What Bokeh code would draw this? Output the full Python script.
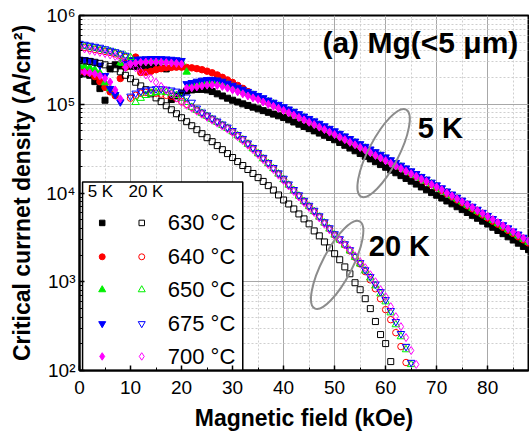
from bokeh.plotting import figure
from bokeh.models import CustomJSTickFormatter, Range1d, SingleIntervalTicker, LogTicker
from bokeh.core.properties import value
from bokeh.embed import file_html
from bokeh.resources import INLINE

# Magnetic field grid (kOe), one measurement per kOe
fields = [0, 1, 2, 3, 4, 5, 6, 7, 8, 9, 10, 11, 12, 13, 14, 15, 16, 17, 18, 19,
          20, 21, 22, 23, 24, 25, 26, 27, 28, 29, 30, 31, 32, 33, 34, 35, 36, 37, 38, 39,
          40, 41, 42, 43, 44, 45, 46, 47, 48, 49, 50, 51, 52, 53, 54, 55, 56, 57, 58, 59,
          60, 61, 62, 63, 64, 65, 66, 67, 68, 69, 70, 71, 72, 73, 74, 75, 76, 77, 78, 79,
          80, 81, 82, 83, 84, 85, 86, 87, 88]

# Jc in kA/cm^2 — 5 K (filled symbols)
jc5_630 = [223, 220, 212, 180, 150, 111, 250, 278, 272, 270, 268, 266, 264, 262, 260, 258, 255, 250, 113, 124,
           134, 141, 145, 147, 147, 145, 139, 131, 124, 117,
           111, 106, 101, 97.0, 92.7, 88.7, 84.7, 81.1, 77.4, 74.1, 70.8, 66.8, 63.1, 59.6, 56.2, 53.1, 50.1, 47.3,
           44.7, 42.2, 39.8, 37.1, 34.5, 32.1, 29.9, 27.9, 25.9, 24.2, 22.5, 20.9, 19.5, 18.1, 16.9, 15.7, 14.6,
           13.6, 12.6, 11.7, 10.9, 10.1, 9.44, 8.77, 8.13, 7.55, 7.00, 6.50, 6.03, 5.60, 5.19, 4.82, 4.47, 4.11,
           3.78, 3.48, 3.21, 2.95, 2.72, 2.50, 2.30]
jc5_640 = [235, 232, 225, 205, 180, 155, 138, 125, 195, 260, 310, 340, 228, 230, 235, 245, 252, 258, 260, 262,
           262, 260, 257, 252, 245, 236, 226, 214, 201, 188,
           176, 163, 151, 139, 128, 119, 111, 104, 98.7, 93.3, 87.9, 82.8, 78.0, 73.3, 68.9, 64.8, 60.8, 57.1,
           53.5, 50.1, 47.0, 44.0, 41.2, 38.4, 36.0, 33.7, 31.4, 29.3, 27.4, 25.6, 23.9, 22.2, 20.7, 19.3, 18.0,
           16.6, 15.5, 14.4, 13.4, 12.4, 11.6, 10.7, 9.87, 9.12, 8.41, 7.78, 7.18, 6.64, 6.13, 5.67, 5.23, 4.82,
           4.45, 4.11, 3.79, 3.50, 3.22, 2.97, 2.74]
jc5_650 = [270, 266, 258, 245, 225, 175, 150, 135, 290, 300, 305, 305, 306, 307, 308, 308, 307, 305, 303, 300,
           298, 231, 165, 172, 177, 180, 181, 179, 173, 165,
           157, 149, 141, 133, 127, 120, 113, 107, 101, 95.3, 89.8, 84.6, 79.7, 74.9, 70.4, 66.1, 62.1, 58.3,
           54.6, 51.2, 48.0, 44.9, 42.0, 39.3, 36.8, 34.4, 32.1, 30.0, 27.9, 26.1, 24.4, 22.7, 21.1, 19.7, 18.3,
           17.0, 15.8, 14.7, 13.7, 12.7, 11.8, 10.9, 10.1, 9.31, 8.59, 7.95, 7.33, 6.78, 6.26, 5.79, 5.34, 4.92,
           4.54, 4.20, 3.87, 3.57, 3.29, 3.03, 2.80]
jc5_675 = [320, 317, 310, 298, 275, 210, 150, 128, 106, 300, 315, 320, 322, 324, 326, 326, 325, 323, 320, 316,
           310, 170, 175, 181, 186, 189, 190, 187, 181, 172,
           163, 155, 147, 139, 132, 125, 118, 111, 105, 99.3, 93.5, 88.1, 83.0, 78.0, 73.3, 68.9, 64.7, 60.7,
           56.9, 53.3, 50.0, 46.8, 43.8, 40.9, 38.3, 35.8, 33.4, 31.2, 29.1, 27.2, 25.4, 23.6, 22.0, 20.5, 19.1,
           17.7, 16.5, 15.3, 14.3, 13.2, 12.3, 11.4, 10.5, 9.70, 8.95, 8.28, 7.64, 7.06, 6.52, 6.03, 5.56, 5.13,
           4.73, 4.37, 4.03, 3.72, 3.43, 3.16, 2.92]
jc5_700 = [232, 230, 226, 220, 210, 195, 178, 145, 115, 260, 285, 292, 297, 299, 299, 299, 298, 295, 292, 289,
           284, 152, 153, 157, 161, 164, 165, 163, 159, 152,
           145, 138, 131, 124, 118, 113, 106, 100, 95.0, 90.0, 85.1, 80.2, 75.5, 71.0, 66.7, 62.7, 58.9, 55.2,
           51.8, 48.5, 45.5, 42.6, 39.9, 37.2, 34.9, 32.6, 30.4, 28.4, 26.5, 24.8, 23.1, 21.6, 20.2, 18.9, 17.6,
           16.5, 15.4, 14.4, 13.5, 12.5, 11.7, 10.9, 10.0, 9.30, 8.61, 7.99, 7.39, 6.85, 6.35, 5.89, 5.45, 5.03,
           4.64, 4.28, 3.95, 3.65, 3.36, 3.10, 2.86]

# Jc in kA/cm^2 — 20 K (open symbols)
jc20_630 = [312, 308, 304, 297, 289, 278, 267, 251, 232, 212, 194, 177, 161, 146, 131, 118, 107, 96.2, 86.7, 78.2,
            70.5, 63.6, 57.3, 51.7, 46.6, 42.0, 37.9, 34.2, 30.8, 27.8, 25.1, 22.6, 20.4, 18.4, 16.6, 14.9, 13.5,
            12.1, 10.8, 9.50, 8.34, 7.52, 6.61, 5.81, 5.11, 4.49, 3.74, 3.29, 2.81, 2.41, 2.07, 1.77, 1.47, 1.23,
            0.975, 0.813, 0.644, 0.498, 0.356, 0.254, 0.201, 0.126]
jc20_640 = [448, 437, 426, 415, 404, 394, 384, 369, 355, 337, 117, 126, 133, 136, 136, 133, 130, 126, 123, 117,
            108, 100, 92.5, 85.6, 79.2, 73.3, 67.8, 62.8, 58.1, 53.7, 49.1, 44.3, 39.9, 35.5, 31.6, 27.8, 24.4,
            21.5, 18.9, 16.4, 14.2, 12.3, 10.7, 9.25, 8.03, 7.05, 6.19, 5.37, 4.60, 3.94, 3.37, 2.96, 2.60, 2.23,
            1.89, 1.59, 1.30, 1.05, 0.834, 0.644, 0.485, 0.374, 0.267, 0.186, 0.123]
jc20_650 = [460, 448, 437, 426, 415, 404, 394, 379, 365, 351, 337, 105, 117, 126, 133, 136, 138, 136, 133, 126,
            117, 105, 92.5, 85.6, 79.2, 73.3, 67.8, 62.8, 58.1, 53.7, 49.1, 44.3, 39.9, 35.5, 31.6, 27.8, 24.4,
            21.5, 18.9, 16.4, 14.2, 12.3, 10.7, 9.25, 8.03, 7.05, 6.19, 5.37, 4.60, 3.94, 3.37, 2.96, 2.60, 2.23,
            1.89, 1.59, 1.33, 1.11, 0.902, 0.733, 0.596, 0.448, 0.329, 0.241, 0.172, 0.117]
jc20_675 = [484, 472, 460, 448, 437, 420, 404, 389, 374, 355, 123, 133, 140, 144, 147, 149, 149, 147, 144, 140,
            133, 120, 105, 90.2, 81.3, 75.2, 69.6, 64.4, 59.6, 55.1, 50.4, 45.4, 41.0, 36.5, 32.4, 28.5, 25.1,
            22.0, 19.3, 16.8, 14.6, 12.6, 10.9, 9.50, 8.24, 7.24, 6.36, 5.51, 4.72, 4.04, 3.46, 3.04, 2.67, 2.29,
            1.93, 1.64, 1.36, 1.14, 0.937, 0.772, 0.628, 0.472, 0.355, 0.260, 0.186, 0.123]
jc20_700 = [431, 420, 404, 394, 384, 374, 360, 346, 324, 304, 281, 257, 235, 214, 196, 177, 159, 144, 130, 117,
            105, 97.4, 90.2, 83.4, 77.2, 71.4, 66.1, 61.2, 56.6, 52.4, 47.9, 43.1, 38.9, 34.6, 30.8, 27.1, 23.8,
            20.9, 18.4, 15.9, 13.8, 12.0, 10.4, 9.02, 7.82, 6.87, 6.04, 5.24, 4.48, 3.84, 3.29, 2.96, 2.60, 2.29,
            1.96, 1.68, 1.44, 1.20, 1.00, 0.813, 0.678, 0.524, 0.404, 0.312, 0.235, 0.168, 0.117]

temps = ["630 °C", "640 °C", "650 °C", "675 °C", "700 °C"]
series_5k = [jc5_630, jc5_640, jc5_650, jc5_675, jc5_700]
series_20k = [jc20_630, jc20_640, jc20_650, jc20_675, jc20_700]
colors = ["#000000", "#ff0000", "#00f000", "#0000ff", "#ff00ff"]
markers = ["square", "circle", "triangle", "inverted_triangle", "diamond"]
sizes = [6, 6.5, 7.5, 7.5, 8]

FONT = "Liberation Sans"

p = figure(width=529, height=438, x_range=Range1d(0, 88), y_range=Range1d(100, 1e6),
           y_axis_type="log", output_backend="svg", toolbar_location=None,
           min_border_left=79, min_border_right=1, min_border_top=15, min_border_bottom=68)
p.background_fill_color = "white"
p.border_fill_color = "white"
p.outline_line_color = "black"
p.outline_line_width = 2

p.xaxis.ticker = SingleIntervalTicker(interval=10, num_minor_ticks=2)
p.yaxis.ticker = LogTicker(num_minor_ticks=10)
p.yaxis.formatter = CustomJSTickFormatter(code="""
const sup = {'0':'\u2070','1':'\u00b9','2':'\u00b2','3':'\u00b3','4':'\u2074','5':'\u2075','6':'\u2076','7':'\u2077','8':'\u2078','9':'\u2079','-':'\u207b'};
const e = Math.round(Math.log10(tick));
return '10' + String(e).split('').map(c => sup[c]).join('');
""")

for ax in (p.xaxis, p.yaxis):
    ax.axis_line_width = 2
    ax.axis_line_color = "black"
    ax.major_tick_in = 5
    ax.major_tick_out = 0
    ax.minor_tick_in = 3
    ax.minor_tick_out = 0
    ax.major_tick_line_width = 1.5
    ax.minor_tick_line_width = 1
    ax.major_tick_line_color = "black"
    ax.minor_tick_line_color = "black"
    ax.major_label_text_font = FONT
    ax.major_label_text_font_size = "19px"
    ax.major_label_text_color = "black"
    ax.axis_label_text_font = FONT
    ax.axis_label_text_font_style = "bold"
    ax.axis_label_text_font_size = "23px"
    ax.axis_label_text_color = "black"

p.xaxis.axis_label = "Magnetic field (kOe)"
p.yaxis.axis_label = "Critical currnet density (A/cm\u00b2)"
p.xaxis.major_label_standoff = 10
p.yaxis.major_label_standoff = 4
p.xaxis.axis_label_standoff = 8
p.yaxis.axis_label_standoff = 8

for g in (p.xgrid, p.ygrid):
    g.grid_line_color = "#a8a8a8"
    g.grid_line_width = 1
    g.minor_grid_line_color = "#cfcfcf"
    g.minor_grid_line_dash = "2 2"
    g.minor_grid_line_width = 1

# 5 K filled
for ser, c, m, s in zip(series_5k, colors, markers, sizes):
    xs = fields[:len(ser)]
    ys = [v * 1000 for v in ser]
    p.scatter(xs, ys, marker=m, size=s, fill_color=c, line_color=c, line_width=1)

# 20 K open
for ser, c, m, s in zip(series_20k, colors, markers, sizes):
    xs = fields[:len(ser)]
    ys = [v * 1000 for v in ser]
    p.scatter(xs, ys, marker=m, size=s, fill_alpha=0, line_color=c, line_width=1)

# Legend box (drawn manually: two symbol columns)
p.quad(left=[0.6], right=[32], top=[13300], bottom=[100], fill_color="white",
       line_color="black", line_width=1.5)
p.text(x=[1.6, 9.6], y=[10500, 10500], text=["5 K", "20 K"], text_font=value(FONT),
       text_font_size="17px", text_baseline="middle", text_align="left", text_color="black")
row_y = [4600, 1910, 813, 337, 144]
for i in range(5):
    p.scatter([4.45], [row_y[i]], marker=markers[i], size=sizes[i] - 0.5, fill_color=colors[i],
              line_color=colors[i])
    p.scatter([12.2], [row_y[i]], marker=markers[i], size=sizes[i] - 0.5, fill_alpha=0,
              line_color=colors[i])
p.text(x=[17.3] * 5, y=row_y, text=temps, text_font=value(FONT), text_font_size="22px",
       text_baseline="middle", text_align="left", text_color="black")

# Ellipses grouping the curves
p.ellipse(x=[59.6, 50.5], y=[28200, 1550], width=98, height=30, angle=1.093,
          width_units="screen", height_units="screen", fill_color=None,
          line_color="#8c8c8c", line_width=2)

# Annotation texts
p.text(x=[66.3], y=[53700], text=["5 K"], text_font=value(FONT), text_font_style="bold",
       text_font_size="29px", text_baseline="middle", text_align="left", text_color="black")
p.text(x=[56.7], y=[2540], text=["20 K"], text_font=value(FONT), text_font_style="bold",
       text_font_size="29px", text_baseline="middle", text_align="left", text_color="black")
p.text(x=[86.0], y=[498000], text=["(a) Mg(<5 \u03bcm)"], text_font=value(FONT),
       text_font_style="bold", text_font_size="30px", text_baseline="middle", text_align="right",
       text_color="black")

open("out.html", "w").write(file_html(p, INLINE))
